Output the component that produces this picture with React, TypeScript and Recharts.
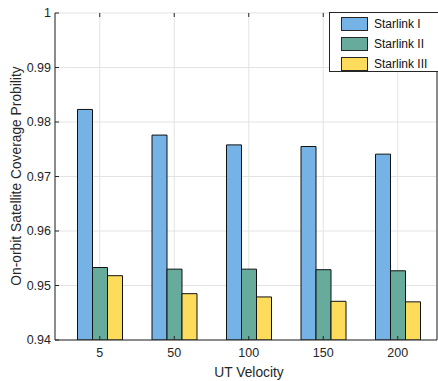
import React from 'react';
import { BarChart, Bar, XAxis, YAxis, CartesianGrid, Label } from 'recharts';

const categories = ['5', '50', '100', '150', '200'];
const starlinkI = [0.9823, 0.9776, 0.9758, 0.9755, 0.9741];
const starlinkII = [0.9533, 0.953, 0.953, 0.9529, 0.9527];
const starlinkIII = [0.9518, 0.9485, 0.9479, 0.9471, 0.947];
const yTicks = [0.94, 0.95, 0.96, 0.97, 0.98, 0.99, 1];

const SERIES = [
  { key: 's1', name: 'Starlink I', color: '#75b3e7' },
  { key: 's2', name: 'Starlink II', color: '#67ab9d' },
  { key: 's3', name: 'Starlink III', color: '#fddc5c' },
];

const W = 438;
const H = 381;
const PLOT_LEFT = 55;
const PLOT_TOP = 13;
const PLOT_BOTTOM = 340;
const FONT = '"Liberation Sans", Arial, Helvetica, sans-serif';
const INK = '#262626';

const data = categories.map((name, i) => ({
  name,
  s1: starlinkI[i],
  s2: starlinkII[i],
  s3: starlinkIII[i],
}));

const YTick = (props: any) => {
  const { y, payload } = props;
  const v = payload.value;
  return (
    <g>
      <line x1={PLOT_LEFT} x2={PLOT_LEFT + 4} y1={y} y2={y} stroke={INK} />
      <text x={51} y={y} dy="0.35em" textAnchor="end" fill={INK} fontSize={12.5} fontFamily={FONT}>
        {v === 1 ? '1' : v.toFixed(2)}
      </text>
    </g>
  );
};

const XTick = (props: any) => {
  const { x, payload } = props;
  return (
    <g>
      <line x1={x} x2={x} y1={PLOT_BOTTOM} y2={PLOT_BOTTOM - 4} stroke={INK} />
      <line x1={x} x2={x} y1={PLOT_TOP} y2={PLOT_TOP + 4} stroke={INK} />
      <text x={x} y={353} dy="0.35em" textAnchor="middle" fill={INK} fontSize={12.5} fontFamily={FONT}>
        {payload.value}
      </text>
    </g>
  );
};

const App: React.FC = () => {
  return (
    <div style={{ position: 'absolute', left: 0, top: 0, width: W, height: H, overflow: 'hidden', background: '#fff' }}>
      <BarChart
        width={W}
        height={H}
        data={data}
        margin={{ top: PLOT_TOP, right: 0, bottom: 0, left: 0 }}
        barGap={0}
        barSize={15}
      >
        <CartesianGrid stroke="#e3e3e3" strokeWidth={1} />
        <XAxis
          dataKey="name"
          height={H - PLOT_BOTTOM - PLOT_TOP + 13}
          axisLine={{ stroke: INK }}
          tickLine={false}
          tick={<XTick />}
          padding={{ left: 7.5, right: 2 }}
          interval={0}
        >
          <Label
            content={() => (
              <text x={249} y={372} dy="0.35em" textAnchor="middle" fill={INK} fontSize={13.8} fontFamily={FONT}>
                UT Velocity
              </text>
            )}
          />
        </XAxis>
        <YAxis
          width={PLOT_LEFT}
          domain={[0.94, 1]}
          ticks={yTicks}
          allowDataOverflow
          axisLine={{ stroke: INK }}
          tickLine={false}
          tick={<YTick />}
        >
          <Label
            content={() => (
              <text
                x={16}
                y={176}
                dy="0.35em"
                textAnchor="middle"
                fill={INK}
                fontSize={13.8}
                fontFamily={FONT}
                transform="rotate(-90 16 176)"
              >
                On-orbit Satellite Coverage Probility
              </text>
            )}
          />
        </YAxis>
        <YAxis
          yAxisId="right"
          orientation="right"
          width={1}
          domain={[0.94, 1]}
          tick={false}
          tickLine={false}
          axisLine={{ stroke: INK }}
        />
        <XAxis
          xAxisId="top"
          dataKey="name"
          orientation="top"
          height={0}
          tick={false}
          tickLine={false}
          axisLine={{ stroke: INK }}
        />
        {SERIES.map((s) => (
          <Bar
            key={s.key}
            dataKey={s.key}
            name={s.name}
            fill={s.color}
            stroke="#111"
            strokeWidth={1}
            isAnimationActive={false}
          />
        ))}
      </BarChart>
      <div
        style={{
          position: 'absolute',
          left: 329,
          top: 12,
          width: 112,
          height: 60,
          border: `1px solid ${INK}`,
          background: '#fff',
          boxSizing: 'border-box',
          paddingTop: 1,
          fontFamily: FONT,
          fontSize: 12,
          color: '#111',
        }}
      >
        {SERIES.map((s) => (
          <div key={s.key} style={{ height: 20, display: 'flex', alignItems: 'center' }}>
            <div
              style={{
                marginLeft: 11,
                width: 27,
                height: 14,
                boxSizing: 'border-box',
                border: `1px solid ${INK}`,
                background: s.color,
              }}
            />
            <span style={{ marginLeft: 6 }}>{s.name}</span>
          </div>
        ))}
      </div>
    </div>
  );
};

export default App;
